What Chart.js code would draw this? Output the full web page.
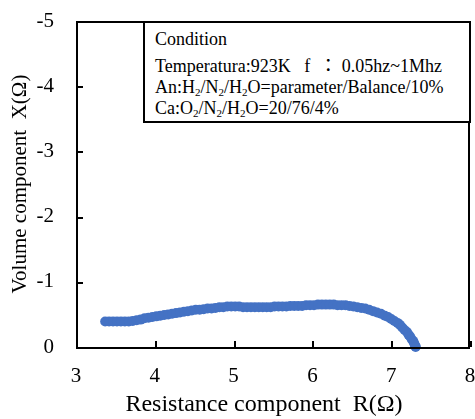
<!DOCTYPE html>
<html>
<head>
<meta charset="utf-8">
<script src="https://cdn.jsdelivr.net/npm/chart.js@4/dist/chart.umd.min.js"></script>
<style>
  body { margin: 0; background: #fff; overflow: hidden; }
  #wrap { position: relative; width: 475px; height: 419px; overflow: hidden; }
  #cond {
    position: absolute; left: 143px; top: 21px; width: 324px; height: 98px;
    border: 2px solid #000; background: #fff;
    font-family: "Liberation Serif", "Times New Roman", serif; font-size: 18px; color: #000;
  }
  #cond div { position: absolute; left: 10px; white-space: pre; line-height: 20px; }
  #cond sub { font-size: 11px; vertical-align: -3px; line-height: 0; }
</style>
</head>
<body>
<div id="wrap">
  <canvas id="nyquist"></canvas>
  <div id="cond">
    <div style="top:6px">Condition</div>
    <div style="top:31px">Temperatura:923K   f  <span style="font-family:'Noto Sans CJK JP'; font-size:18px">：</span> 0.05hz~1Mhz</div>
    <div style="top:54px">An:H<sub>2</sub>/N<sub>2</sub>/H<sub>2</sub>O=parameter/Balance/10%</div>
    <div style="top:75px">Ca:O<sub>2</sub>/N<sub>2</sub>/H<sub>2</sub>O=20/76/4%</div>
  </div>
</div>
<script>
// Resistance R (ohm) and volume component X (ohm)
const resistance = [3.37, 3.42, 3.47, 3.52, 3.57, 3.62, 3.67, 3.72, 3.77, 3.82, 3.87, 3.92, 3.97,
  4.02, 4.07, 4.12, 4.17, 4.22, 4.27, 4.32, 4.37, 4.42, 4.47, 4.52, 4.57, 4.62, 4.67, 4.72, 4.77,
  4.82, 4.87, 4.92, 4.97, 5.02, 5.07, 5.12, 5.17, 5.22, 5.27, 5.32, 5.37, 5.42, 5.47, 5.52, 5.57,
  5.62, 5.67, 5.72, 5.77, 5.82, 5.87, 5.92, 5.97, 6.02, 6.07, 6.12, 6.17, 6.22, 6.27, 6.32, 6.37,
  6.42, 6.47, 6.52, 6.57, 6.62, 6.67, 6.72, 6.77, 6.82, 6.87, 6.92, 6.96, 7.00, 7.04, 7.08, 7.11,
  7.14, 7.17, 7.20, 7.22, 7.24, 7.26, 7.28, 7.29, 7.30, 7.31, 7.31];
const reactance = [-0.39, -0.39, -0.39, -0.39, -0.39, -0.39, -0.39, -0.40, -0.41, -0.42, -0.44, -0.45, -0.46,
  -0.47, -0.48, -0.49, -0.50, -0.51, -0.52, -0.53, -0.54, -0.55, -0.56, -0.57, -0.57, -0.58, -0.59, -0.59, -0.60,
  -0.61, -0.61, -0.62, -0.62, -0.62, -0.62, -0.61, -0.61, -0.61, -0.61, -0.61, -0.61, -0.61, -0.61, -0.62, -0.62,
  -0.62, -0.62, -0.63, -0.63, -0.63, -0.63, -0.64, -0.64, -0.64, -0.65, -0.65, -0.65, -0.65, -0.65, -0.64, -0.64,
  -0.64, -0.63, -0.62, -0.61, -0.60, -0.59, -0.57, -0.55, -0.53, -0.51, -0.48, -0.46, -0.43, -0.40, -0.37, -0.34,
  -0.30, -0.26, -0.23, -0.19, -0.16, -0.12, -0.09, -0.06, -0.03, -0.01, 0.00];

const xTicks = [3, 4, 5, 6, 7, 8];
const yTicks = [0, -1, -2, -3, -4, -5];

const points = resistance.map((r, i) => ({ x: r, y: reactance[i] }));

const serif = '"Liberation Serif", "Times New Roman", serif';

// frame + inward tick marks
const framePlugin = {
  id: 'plotFrame',
  afterDraw(chart) {
    const ctx = chart.ctx;
    const a = chart.chartArea;
    const l = Math.round(a.left), r = Math.round(a.right) - 2;
    const t = Math.round(a.top), b = Math.round(a.bottom);
    ctx.save();
    ctx.fillStyle = '#000000';
    ctx.fillRect(l, t, r - l + 2, 2);
    ctx.fillRect(l, b, r - l + 2, 2);
    ctx.fillRect(l, t, 2, b - t + 2);
    ctx.fillRect(r, t, 2, b - t + 2);
    xTicks.forEach(v => {
      const px = Math.round(chart.scales.x.getPixelForValue(v));
      ctx.fillRect(px, b - 6, 2, 6);
    });
    yTicks.forEach(v => {
      const py = Math.round(chart.scales.y.getPixelForValue(v));
      ctx.fillRect(l, py, 7, 2);
    });
    ctx.restore();
  }
};

new Chart(document.getElementById('nyquist'), {
  type: 'scatter',
  data: {
    datasets: [{
      data: points,
      pointRadius: 5,
      pointBackgroundColor: '#4472C4',
      pointBorderWidth: 0,
      clip: false
    }]
  },
  options: {
    responsive: true,
    maintainAspectRatio: false,
    animation: false,
    layout: { padding: { top: 21, right: 4, left: 0, bottom: 0 } },
    plugins: { legend: { display: false }, tooltip: { enabled: false } },
    scales: {
      x: {
        type: 'linear',
        min: 3, max: 8,
        afterFit: s => { s.height = 72; s.paddingLeft = 0; s.paddingRight = 0; },
        afterBuildTicks: s => { s.ticks = xTicks.map(v => ({ value: v })); },
        grid: { display: false, drawTicks: false },
        border: { display: false },
        ticks: { color: '#000', padding: 17, font: { family: serif, size: 21 } },
        title: {
          display: true, text: 'Resistance component  R(Ω)\u00a0\u00a0\u00a0', color: '#000',
          font: { family: serif, size: 24 }, padding: { top: 0, bottom: 0 }
        }
      },
      y: {
        type: 'linear',
        min: -5, max: 0,
        reverse: true,
        afterFit: s => { s.width = 76; s.paddingTop = 0; s.paddingBottom = 0; },
        afterBuildTicks: s => { s.ticks = yTicks.map(v => ({ value: v })); },
        grid: { display: false, drawTicks: false },
        border: { display: false },
        ticks: { color: '#000', padding: 22, font: { family: serif, size: 21 } },
        title: {
          display: true, text: 'Volume component  X(Ω)', color: '#000',
          font: { family: serif, size: 21 }, padding: { top: 8, bottom: 0 }
        }
      }
    }
  },
  plugins: [framePlugin]
});
</script>
</body>
</html>
